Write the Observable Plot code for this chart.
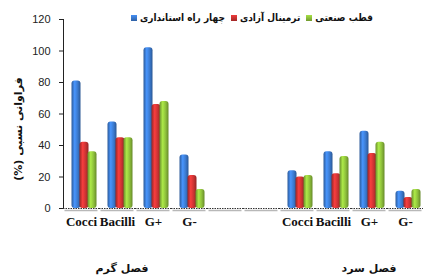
<!DOCTYPE html>
<html><head><meta charset="utf-8">
<script src="https://cdn.jsdelivr.net/npm/d3@7"></script>
<script src="https://cdn.jsdelivr.net/npm/@observablehq/plot@0.6"></script>
<style>
body{margin:0;background:#fff;}
#wrap{position:relative;width:431px;height:275px;overflow:hidden;background:#fff;}
#wrap svg{position:absolute;left:0;top:0;}
.fa{position:absolute;font-family:"DejaVu Sans",sans-serif;font-weight:bold;font-size:11px;color:#111;white-space:nowrap;direction:rtl;}
#legend{position:absolute;left:131px;top:12px;width:300px;display:flex;align-items:center;direction:ltr;font-family:"DejaVu Sans",sans-serif;font-stretch:condensed;font-weight:bold;font-size:10px;color:#111;white-space:nowrap;}
#legend .sw{display:inline-block;width:6px;height:6px;margin-right:3px;flex-shrink:0;}
#legend .it{display:flex;align-items:center;margin-right:6px;flex-shrink:0;}
#ytitle{position:absolute;left:18px;top:129px;transform:translate(-50%,-50%) rotate(-90deg);direction:rtl;font-family:"DejaVu Sans",sans-serif;font-weight:bold;font-size:11px;white-space:nowrap;color:#111;}
</style></head><body><div id="wrap"></div>
<script>
const slots = ["w:Cocci","w:Bacilli","w:G+","w:G-","gap1","gap2","c:Cocci","c:Bacilli","c:G+","c:G-"];
const categories = ["Cocci","Bacilli","G+","G-"];
const seasons = ["فصل گرم","فصل سرد"];
const seriesNames = ["چهار راه استانداری","ترمینال آزادی","قطب صنعتی"];
const seriesColors = ["#3a78cc","#c83232","#8cbd3a"];
const warmStandard = [81,55,102,34];
const warmTerminal = [42,45,66,21];
const warmIndustrial = [36,45,68,12];
const coldStandard = [24,36,49,11];
const coldTerminal = [20,22,35,7];
const coldIndustrial = [21,33,42,12];
const yTicks = [0,20,40,60,80,100,120];
const yTitle = "فراوانی نسبی (%)";

const rows = [];
const warm = [warmStandard, warmTerminal, warmIndustrial];
const cold = [coldStandard, coldTerminal, coldIndustrial];
categories.forEach((c,i)=>{
  seriesNames.forEach((s,j)=>{
    rows.push({slot:"w:"+c, series:s, value:warm[j][i]});
    rows.push({slot:"c:"+c, series:s, value:cold[j][i]});
  });
});
const labels = slots.filter(s=>!s.startsWith("gap")).map(s=>({slot:s, cat:s.split(":")[1]}));
const floor = slots.map(s=>({slot:s, y:0}));

const plot = Plot.plot({
  width:431, height:275,
  marginTop:19, marginBottom:67, marginLeft:60, marginRight:6,
  style:{fontFamily:"'Liberation Sans',Arial,sans-serif", fontSize:"11px", color:"#222", background:"transparent"},
  fx:{domain:slots, padding:0, axis:null, label:null},
  x:{domain:seriesNames, paddingInner:0, paddingOuter:0.53, axis:null},
  y:{domain:[0,120], ticks:yTicks, tickSize:4, tickPadding:9, label:null, line:true},
  color:{domain:seriesNames, range:seriesColors},
  marks:[
    Plot.ruleY(floor,{fx:"slot", y:"y", dy:2, stroke:"#b8b8b8", strokeWidth:1.5, insetLeft:1.5, insetRight:1.5}),
    Plot.ruleY(floor,{fx:"slot", y:"y", stroke:"#333", strokeDasharray:"1.5,1"}),
    Plot.barY(rows,{fx:"slot", x:"series", y:"value", fill:"series", dx:3, rx:3, insetLeft:-0.5, insetRight:-0.5}),
    Plot.text(labels,{fx:"slot", text:"cat", frameAnchor:"bottom", dy:17, fontFamily:"'Liberation Serif','Times New Roman',serif", fontWeight:"bold", fontSize:13, fill:"#111"})
  ]
});

const svg = d3.select(plot);
const defs = svg.insert("defs",":first-child");
const grads = {};
seriesColors.forEach((c,i)=>{
  const base = d3.color(c);
  const g = defs.append("linearGradient").attr("id","g"+i).attr("x1","0").attr("x2","1").attr("y1","0").attr("y2","0");
  g.append("stop").attr("offset","0%").attr("stop-color",base.darker(0.8));
  g.append("stop").attr("offset","35%").attr("stop-color",base.brighter(0.6));
  g.append("stop").attr("offset","70%").attr("stop-color",base);
  g.append("stop").attr("offset","100%").attr("stop-color",base.darker(0.9));
  grads[base.formatHex()] = "url(#g"+i+")";
});
svg.selectAll("rect").each(function(){
  const f = this.getAttribute("fill");
  if (f) { const h = d3.color(f); if (h && grads[h.formatHex()]) this.setAttribute("fill", grads[h.formatHex()]); }
});
svg.selectAll("g[aria-label='y-axis line'] path, g[aria-label='y-axis'] path.domain").attr("stroke-dasharray","1.5,1");

const wrap = document.getElementById("wrap");
wrap.appendChild(plot);

const legend = document.createElement("div");
legend.id = "legend";
seriesNames.forEach((s,i)=>{
  const it = document.createElement("span"); it.className="it";
  const sw = document.createElement("span"); sw.className="sw";
  sw.style.background = `linear-gradient(to bottom, ${d3.color(seriesColors[i]).brighter(0.5)}, ${d3.color(seriesColors[i]).darker(0.6)})`;
  const tx = document.createElement("span"); tx.textContent = s; tx.style.direction="rtl";
  it.appendChild(sw); it.appendChild(tx); legend.appendChild(it);
});
wrap.appendChild(legend);

const yt = document.createElement("div"); yt.id="ytitle"; yt.textContent = yTitle; wrap.appendChild(yt);

const pos = [{x:122},{x:369}];
seasons.forEach((s,i)=>{
  const d = document.createElement("div"); d.className="fa"; d.textContent=s;
  d.style.left = pos[i].x+"px"; d.style.top="262px"; d.style.transform="translateX(-50%)";
  wrap.appendChild(d);
});
</script></body></html>
